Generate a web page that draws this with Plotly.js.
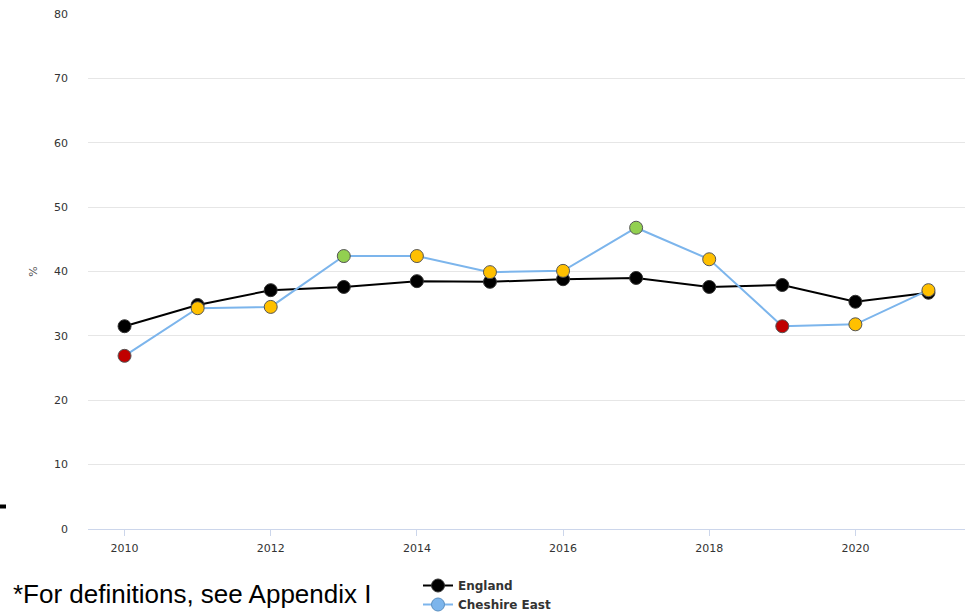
<!DOCTYPE html>
<html>
<head>
<meta charset="utf-8">
<script src="https://cdn.plot.ly/plotly-3.0.1.min.js"></script>
<style>html,body{margin:0;padding:0;background:#fff;}#chart{width:969px;height:613px;}</style>
</head>
<body>
<div id="chart"></div>
<script>
const years = [2010, 2011, 2012, 2013, 2014, 2015, 2016, 2017, 2018, 2019, 2020, 2021];
const englandValues = [31.5, 34.8, 37.1, 37.6, 38.5, 38.4, 38.8, 39.0, 37.6, 37.9, 35.3, 36.7];
const cheshireValues = [26.9, 34.3, 34.5, 42.4, 42.4, 39.9, 40.1, 46.8, 41.9, 31.5, 31.8, 37.1];
const cheshireRag = ["red", "amber", "amber", "green", "amber", "amber", "amber", "green", "amber", "red", "amber", "amber"];
const ragColours = {red: "#c00000", amber: "#ffc000", green: "#92d050"};
const yTicks = [0, 10, 20, 30, 40, 50, 60, 70, 80];
const xTicks = [2010, 2012, 2014, 2016, 2018, 2020];
const footnote = "*For definitions, see Appendix I";

const traces = [
  {
    x: years, y: englandValues, name: "England", type: "scatter", mode: "lines+markers",
    line: {color: "#000000", width: 2},
    marker: {color: "#000000", size: 13, line: {color: "#333333", width: 1}}
  },
  {
    x: years, y: cheshireValues, name: "Cheshire East", type: "scatter", mode: "lines+markers",
    showlegend: false,
    line: {color: "#7cb5ec", width: 2},
    marker: {color: cheshireRag.map(r => ragColours[r]), size: 13, line: {color: "#555555", width: 1}}
  },
  {
    x: [null], y: [null], name: "Cheshire East", type: "scatter", mode: "lines+markers",
    line: {color: "#7cb5ec", width: 2},
    marker: {color: "#7cb5ec", size: 13, line: {color: "#5a8fc0", width: 1}}
  }
];

const layout = {
  width: 969, height: 613,
  margin: {l: 88, r: 4, t: 14, b: 0, autoexpand: false},
  paper_bgcolor: "#ffffff", plot_bgcolor: "#ffffff",
  font: {family: "DejaVu Sans, Verdana, sans-serif", size: 11, color: "#333333"},
  showlegend: true,
  xaxis: {
    range: [2009.5, 2021.5], tickmode: "array", tickvals: xTicks, ticktext: xTicks.map(String),
    showgrid: false, zeroline: false, showline: true, linecolor: "#ccd6eb", linewidth: 1,
    ticks: "outside", ticklen: 6, tickcolor: "#ccd6eb", tickfont: {size: 11, color: "#333333"},
    ticklabelstandoff: 3, automargin: false
  },
  yaxis: {
    domain: [84 / 599, 1],
    range: [0, 80], tickmode: "array", tickvals: yTicks, ticktext: yTicks.map(String),
    showgrid: true, gridcolor: "#e6e6e6", gridwidth: 1, zeroline: false, showline: false,
    ticklabelstandoff: 19, tickfont: {size: 11, color: "#333333"}, automargin: false,
    title: {text: "%", font: {size: 11, color: "#555555"}, standoff: 14}
  },
  legend: {
    x: (418 - 88) / 877, y: (613 - 571) / 599, xanchor: "left", yanchor: "top", orientation: "v",
    font: {family: "DejaVu Sans, Verdana, sans-serif", size: 12, color: "#333333", weight: "bold"},
    bgcolor: "rgba(0,0,0,0)", tracegroupgap: 0, itemwidth: 30
  },
  annotations: [
    {xref: "paper", yref: "paper", x: -77 / 877, y: (613 - 594) / 599, xanchor: "left", yanchor: "middle",
     text: footnote, showarrow: false,
     font: {family: "Liberation Sans, Arial, sans-serif", size: 26, color: "#000000"}}
  ],
  shapes: [
    {type: "line", xref: "paper", yref: "paper", x0: -88 / 877, x1: -82 / 877,
     y0: (613 - 506.5) / 599, y1: (613 - 506.5) / 599,
     line: {color: "#000000", width: 4}}
  ]
};

Plotly.newPlot("chart", traces, layout, {displayModeBar: false, staticPlot: true});
</script>
</body>
</html>
